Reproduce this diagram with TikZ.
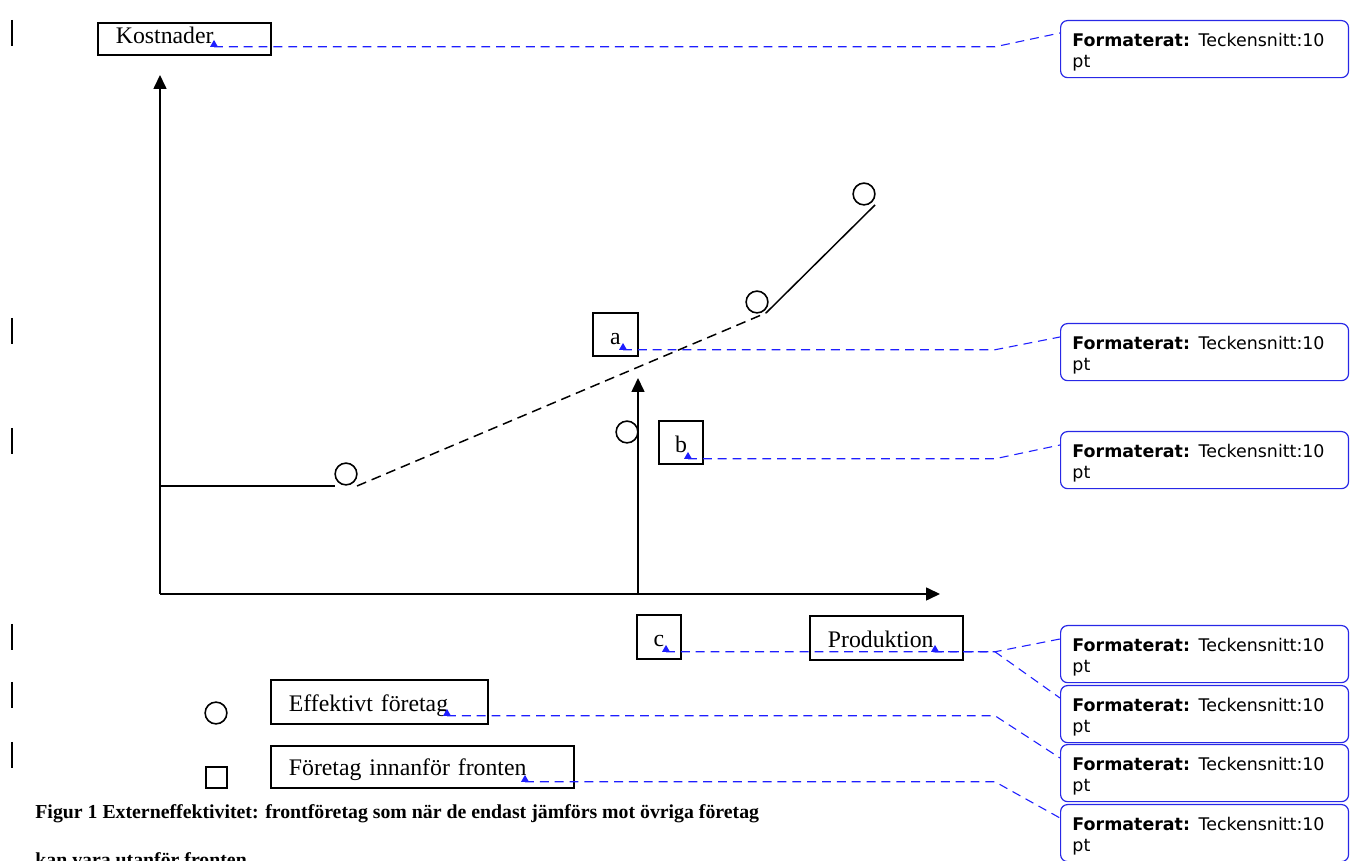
\documentclass[tikz,border=0pt]{standalone}
\usepackage{fontspec}
\setmainfont{Liberation Serif}
\newfontfamily\notefont{DejaVu Sans}
\usetikzlibrary{arrows.meta,calc,shapes.geometric}
\definecolor{noteblue}{RGB}{40,40,230}
\definecolor{linkblue}{RGB}{30,30,255}
\tikzset{
    >={Triangle[length=7pt,width=6.5pt]},
    lbl/.style={draw,line width=0.9pt,rectangle,inner ysep=0pt,text depth=6pt,font=\fontsize{12}{14}\selectfont},
    widebox/.style={lbl,anchor=north west,align=left,inner xsep=9.1pt,text width=#1,text height=16.2pt},
    smallbox/.style={lbl,minimum width=22.5pt,inner xsep=0pt,text height=16pt},
    note/.style={draw=noteblue,line width=0.6pt,rounded corners=3.5pt,anchor=north west,minimum height=28.8pt,
        inner xsep=6pt,inner ysep=0pt,text width=133.4pt,align=left,font=\notefont\fontsize{8.8}{10.6}\selectfont},
    notemark/.style={regular polygon,regular polygon sides=3,fill=linkblue,inner sep=0pt,outer sep=0pt,minimum size=4.6pt},
    noteline/.style={draw=linkblue,line width=0.55pt,dash pattern=on 4.5pt off 3pt},
    axisline/.style={line width=0.8pt},
    frontier/.style={line width=0.75pt},
    firmdot/.style={draw,circle,line width=0.8pt,inner sep=0pt,minimum size=11pt},
    changebar/.style={line width=1pt},
    captext/.style={inner sep=0pt,anchor=base west,font=\bfseries\fontsize{10}{12}\selectfont}
}

\begin{document}
\begin{tikzpicture}[x=0.505pt,y=-0.505pt]
    \useasboundingbox (0,0) rectangle (1350,861);
    % change bars in the margin
    \foreach \y in {33,331,441,637,695,755}
        \draw[changebar] (12,\y-13) -- (12,\y+13);

    % axes
    \coordinate (O) at (160,594);
    \coordinate (xend) at (940,594);
    \coordinate (yend) at (160,75);
    \draw[axisline,->] (O) -- (xend);
    \draw[axisline,->] (O) -- (yend);

    % the front
    \coordinate (f0) at (160,486);
    \coordinate (f1) at (335,486);
    \coordinate (f2) at (357,486);
    \coordinate (f3) at (766,313);
    \coordinate (f4) at (875,205);
    \draw[frontier] (f0) -- (f1);
    \draw[frontier,dash pattern=on 5pt off 3pt] (f2) -- (f3);
    \draw[frontier] (f3) -- (f4);
    \node[firmdot] (e1) at (346,474) {};
    \node[firmdot] (e2) at (757,302) {};
    \node[firmdot] (e3) at (864,194) {};
    \node[firmdot] (e4) at (627,432) {};
    \coordinate (vb) at (638,594);
    \coordinate (vt) at (638,378);
    \draw[axisline,->] (vb) -- (vt);

    % labels
    \node[widebox=69.2pt,text height=10.2pt] (kost) at (97,22) {Kostnader};
    \node[widebox=59.1pt] (prod) at (809,615) {Produktion};
    \node[smallbox] (boxa) at (615.5,334.5) {a};
    \node[smallbox] (boxb) at (681,442.5) {b};
    \node[smallbox] (boxc) at (659,637) {c};

    % legend
    \node[firmdot] (leg1) at (216,713) {};
    \node[draw,line width=0.8pt,minimum size=10.6pt,inner sep=0pt] (leg2) at (216.5,777.5) {};
    \node[widebox=91.4pt] (eff) at (270,679) {Effektivt företag};
    \node[widebox=134.8pt,text height=15.2pt] (inn) at (270,745) {Företag innanför fronten};

    \node[captext] (cap1) at (35,818) {Figur 1 Externeffektivitet: frontföretag som när de endast jämförs mot övriga företag};
    \node[captext] (cap2) at (35,866) {kan vara utanför fronten};

    % comments
    \foreach \i/\y in {1/20,2/323,3/431,4/625,5/685,6/744,7/804}
        \node[note] (n\i) at (1060,\y) {\rule{0pt}{9.5pt}\textbf{Formaterat:} Teckensnitt:10\\pt};
    \node[notemark] (mkost) at (214,44.5) {};
    \node[notemark] (ma) at (623,347.5) {};
    \node[notemark] (mb) at (688,456.5) {};
    \node[notemark] (mc) at (666,649.5) {};
    \node[notemark] (mprod) at (935,649.5) {};
    \node[notemark] (meff) at (447,713.5) {};
    \node[notemark] (minn) at (525,779.5) {};
    \coordinate (bend) at (995,0);
    \draw[noteline] (mkost.south) -- (mkost.south -| bend) -- ($(n1.north west)+(0,13)$);
    \draw[noteline] (ma.south) -- (ma.south -| bend) -- ($(n2.north west)+(0,14)$);
    \draw[noteline] (mb.south) -- (mb.south -| bend) -- ($(n3.north west)+(0,14)$);
    \draw[noteline] (mc.south) -- (mc.south -| bend) -- ($(n4.north west)+(0,14)$);
    \draw[noteline] (mprod.south) -- (mprod.south -| bend) -- ($(n5.north west)+(0,13)$);
    \draw[noteline] (meff.south) -- (meff.south -| bend) -- ($(n6.north west)+(0,14)$);
    \draw[noteline] (minn.south) -- (minn.south -| bend) -- ($(n7.north west)+(0,14)$);
\end{tikzpicture}
\end{document}
